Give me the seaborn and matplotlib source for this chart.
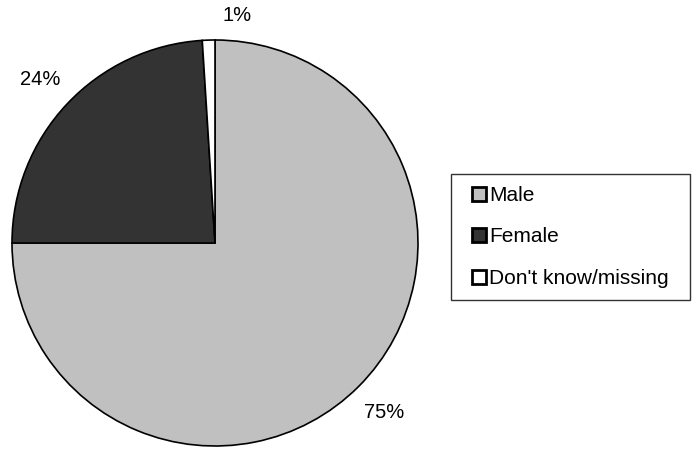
import matplotlib
matplotlib.use("Agg")
import matplotlib.pyplot as plt
from matplotlib.patches import Rectangle
import seaborn as sns
import numpy as np

categories = ["Male", "Female", "Don't know/missing"]
shares = [75, 24, 1]
colors = ["#c0c0c0", "#333333", "#ffffff"]

sns.set_style("white")
plt.rcParams["font.family"] = ["Liberation Sans", "DejaVu Sans"]
plt.rcParams["text.color"] = "black"

W, H = 696, 449
fig = plt.figure(figsize=(W / 100, H / 100), dpi=100)
ax = fig.add_axes([12 / W, 3 / H, 406 / W, 406 / H])

wedges, _ = ax.pie(
    shares,
    colors=colors,
    startangle=90,
    counterclock=False,
    radius=1.0,
    wedgeprops=dict(edgecolor="black", linewidth=1.2),
)
ax.set_xlim(-1.0, 1.0)
ax.set_ylim(-1.0, 1.0)
ax.set_aspect("equal")
ax.axis("off")

# percentage labels just outside each wedge
cum = np.cumsum([0] + shares[:-1])
for start, val in zip(cum, shares):
    mid = (start + val / 2) / 100 * 2 * np.pi
    r = 1.18
    x, y = r * np.sin(mid), r * np.cos(mid)
    if val < 5:
        x, y = 0.11, 1.12
    ax.text(x, y, f"{val}%", ha="center", va="center", fontsize=14.5,
            color="black", clip_on=False)

# legend entries, with a plain rectangular box drawn around them
leg = fig.legend(
    wedges, categories,
    loc="center left",
    bbox_to_anchor=(472 / W, 1 - 237 / H),
    fontsize=15,
    frameon=False,
    handlelength=0.68,
    handleheight=0.68,
    handletextpad=0.15,
    labelspacing=1.08,
    borderpad=0,
    borderaxespad=0,
)
for t in leg.get_texts():
    t.set_color("black")
for h in leg.legend_handles:
    h.set_linewidth(2.0)
    h.set_edgecolor("black")

fig.patches.append(Rectangle(
    (451 / W, 1 - 300 / H), (690 - 451) / W, (300 - 174) / H,
    transform=fig.transFigure, fill=False, edgecolor="#333333",
    linewidth=1.0,
))

fig.savefig("out.png", dpi=100)
